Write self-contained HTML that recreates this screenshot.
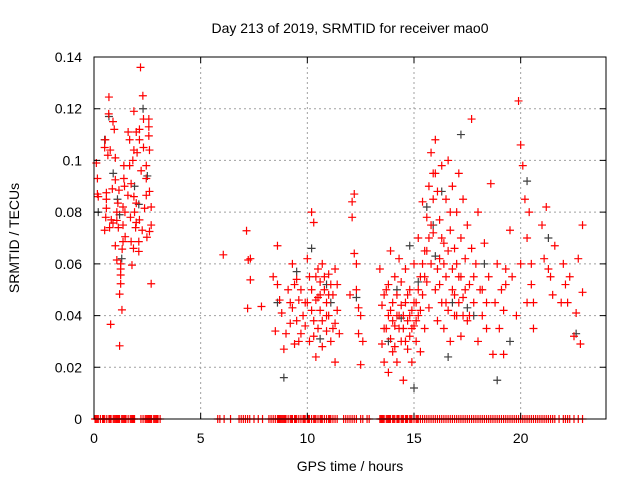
<!DOCTYPE html>
<html><head><meta charset="utf-8"><style>
body{margin:0;background:#fff;}
svg{display:block;font-family:"Liberation Sans",sans-serif;}
</style></head><body>
<svg id="chart" width="640" height="480" viewBox="0 0 640 480">
<text x="350" y="33" font-size="14" text-anchor="middle">Day 213 of 2019, SRMTID for receiver mao0</text>
<text x="19" y="238" font-size="14" text-anchor="middle" transform="rotate(-90 19 238)">SRMTID / TECUs</text>
<text x="350" y="471" font-size="14" text-anchor="middle">GPS time / hours</text>
<g id="grid"></g><g id="marks"></g><g id="axes"></g>
</svg>
<script>
const xTicks=[0,5,10,15,20];
const yTicks=[0,0.02,0.04,0.06,0.08,0.1,0.12,0.14];
const yTickLabels=["0","0.02","0.04","0.06","0.08","0.1","0.12","0.14"];
const grayHours=[0.5,0.7,0.9,1.1,1.2,1.3,1.9,2.1,2.3,2.5,0.2,8.6,8.9,9.5,10.2,10.6,11.1,12.3,13.8,14.4,14.8,15.0,15.2,15.6,16.0,16.3,16.6,17.2,17.5,18.3,18.9,19.5,20.3,21.3,22.6,14.2,15.9,16.8,10.9,17.8];
const grayValues=[0.108,0.117,0.095,0.085,0.079,0.062,0.09,0.083,0.12,0.094,0.08,0.045,0.016,0.057,0.066,0.031,0.045,0.047,0.03,0.039,0.067,0.012,0.053,0.082,0.063,0.088,0.024,0.11,0.043,0.06,0.015,0.03,0.092,0.07,0.033,0.05,0.075,0.045,0.052,0.04];
const redHours=[2.18,0.70,2.29,0.69,1.87,0.89,2.32,2.57,0.95,1.6,1.98,2.13,2.57,2.57,0.53,1.67,2.13,0.5,0.76,2.32,2.6,0.65,1.0,1.87,2.02,0.11,1.82,1.4,1.67,2.45,2.21,0.16,1.0,1.4,2.45,1.74,0.86,1.17,1.43,0.16,0.58,1.59,1.87,2.45,2.6,0.2,0.58,1.12,1.98,0.58,1.36,2.37,2.68,1.07,1.45,1.9,0.55,1.71,0.81,1.07,2.13,0.89,1.98,0.73,1.14,1.36,1.95,2.68,0.5,2.26,2.6,1.46,2.48,1.36,1.74,2.1,1.0,1.32,1.85,2.1,1.07,1.25,1.78,1.25,1.25,1.25,2.68,1.2,1.31,0.78,1.2,
6.06,7.15,7.23,7.33,7.33,7.2,7.85,
8.4,8.5,8.6,8.6,8.7,8.8,8.9,9.0,9.1,9.2,9.3,9.3,9.4,9.5,9.5,9.6,9.7,9.8,9.9,10.0,10.0,10.1,10.2,10.2,10.3,10.3,10.4,10.4,10.5,10.5,10.6,10.6,10.7,10.7,10.8,10.9,10.9,11.0,11.0,11.1,11.2,11.3,11.3,11.4,11.5,12.0,12.1,12.1,12.2,12.2,12.3,12.3,12.4,12.4,12.5,12.5,12.6,13.4,13.5,13.5,13.6,13.6,13.7,13.8,13.8,13.9,13.9,14.0,14.0,14.1,14.1,14.2,14.2,14.3,14.3,14.4,14.4,14.5,14.5,14.6,14.6,14.7,14.7,14.8,14.8,14.9,14.9,15.0,15.0,15.1,15.1,15.2,15.2,15.3,15.3,15.4,15.4,15.5,15.5,15.6,15.6,15.7,15.7,15.8,15.8,15.9,15.9,16.0,16.0,16.1,16.1,16.2,16.2,16.3,16.3,16.4,16.4,16.5,16.5,16.6,16.6,16.7,16.7,16.8,16.8,16.9,16.9,17.0,17.0,17.1,17.1,17.2,17.2,17.3,17.3,17.4,17.5,17.5,17.6,17.7,17.7,17.8,17.9,18.0,18.0,18.1,18.2,18.3,18.4,18.5,18.6,18.7,18.8,18.9,19.0,19.1,19.2,19.3,19.5,19.6,19.8,19.9,20.0,20.0,20.1,20.2,20.3,20.3,20.4,20.5,20.6,21.0,21.1,21.2,21.3,21.5,21.6,21.9,22.0,22.1,22.3,22.5,22.6,22.7,22.8,22.9,22.9,
9.2,9.4,9.6,9.7,9.9,10.1,10.2,10.3,10.4,10.5,10.6,10.7,10.8,10.9,11.0,11.1,11.2,11.3,11.4,13.6,13.7,13.8,13.9,14.0,14.1,14.2,14.3,14.4,14.5,14.6,14.7,14.8,14.9,15.0,15.1,15.2,15.3,15.4,15.5,15.6,15.7,15.8,15.9,16.0,16.1,16.2,16.3,16.4,16.5,16.6,16.7,16.8,16.9,17.0,17.1,17.2,17.3,17.4,17.6,17.8,18.2,18.4,19.2,19.3,20.5,20.6,21.4,22.2];
const redValues=[0.136,0.1245,0.125,0.118,0.119,0.115,0.116,0.116,0.112,0.111,0.111,0.112,0.113,0.1095,0.108,0.108,0.108,0.105,0.104,0.105,0.104,0.102,0.101,0.104,0.103,0.099,0.1,0.098,0.098,0.098,0.096,0.093,0.0925,0.093,0.093,0.091,0.089,0.0885,0.09,0.087,0.0875,0.0865,0.086,0.0865,0.088,0.086,0.085,0.0835,0.0835,0.0815,0.082,0.0815,0.082,0.08,0.08,0.08,0.078,0.078,0.077,0.0768,0.077,0.0758,0.076,0.074,0.074,0.075,0.074,0.075,0.073,0.073,0.0725,0.0705,0.0703,0.0686,0.0686,0.0686,0.067,0.0657,0.066,0.0648,0.0615,0.06,0.0595,0.058,0.0557,0.0523,0.0523,0.0483,0.0422,0.0366,0.0283,
0.0635,0.0728,0.0615,0.062,0.0538,0.0428,0.0435,
0.055,0.034,0.067,0.052,0.046,0.041,0.027,0.033,0.05,0.037,0.06,0.043,0.029,0.038,0.054,0.046,0.033,0.040,0.036,0.062,0.045,0.030,0.050,0.080,0.076,0.038,0.055,0.024,0.047,0.035,0.053,0.042,0.060,0.028,0.050,0.045,0.034,0.040,0.056,0.030,0.048,0.037,0.022,0.052,0.033,0.048,0.084,0.078,0.087,0.064,0.060,0.050,0.043,0.033,0.040,0.021,0.030,0.058,0.044,0.029,0.035,0.022,0.050,0.040,0.018,0.065,0.031,0.045,0.026,0.055,0.036,0.048,0.022,0.062,0.040,0.030,0.053,0.035,0.015,0.045,0.058,0.038,0.027,0.050,0.032,0.042,0.022,0.036,0.060,0.030,0.045,0.070,0.040,0.055,0.026,0.084,0.048,0.065,0.035,0.078,0.053,0.090,0.043,0.103,0.060,0.095,0.072,0.108,0.050,0.088,0.038,0.077,0.062,0.098,0.045,0.068,0.035,0.085,0.055,0.100,0.042,0.073,0.030,0.090,0.058,0.066,0.048,0.080,0.040,0.095,0.055,0.070,0.032,0.085,0.047,0.062,0.075,0.038,0.052,0.116,0.066,0.045,0.060,0.030,0.080,0.050,0.040,0.068,0.035,0.055,0.091,0.025,0.045,0.060,0.035,0.050,0.025,0.058,0.073,0.055,0.040,0.123,0.106,0.060,0.098,0.085,0.070,0.045,0.080,0.052,0.035,0.075,0.062,0.082,0.058,0.048,0.067,0.045,0.060,0.052,0.055,0.032,0.041,0.062,0.029,0.075,0.049,
0.045,0.052,0.030,0.050,0.045,0.055,0.042,0.032,0.046,0.058,0.048,0.038,0.055,0.040,0.048,0.052,0.035,0.058,0.042,0.048,0.035,0.052,0.042,0.038,0.028,0.040,0.035,0.044,0.040,0.030,0.048,0.040,0.035,0.045,0.038,0.050,0.042,0.060,0.055,0.065,0.070,0.075,0.085,0.095,0.058,0.052,0.070,0.060,0.045,0.065,0.080,0.050,0.040,0.060,0.045,0.055,0.040,0.050,0.040,0.055,0.050,0.045,0.042,0.052,0.060,0.045,0.055,0.045];
const zeroHours=[0.05,0.1,0.15,0.2,0.3,0.4,0.45,0.5,0.6,0.7,0.75,0.8,0.9,0.95,1.0,1.05,1.1,1.15,1.2,1.3,1.35,1.4,1.45,1.5,1.6,1.7,1.75,1.8,1.85,1.9,2.2,2.3,2.4,2.45,2.5,2.55,2.6,2.65,2.7,2.8,2.85,2.9,2.95,3.0,3.1,5.8,5.9,6.1,6.4,6.8,6.9,7.0,7.1,7.2,7.3,7.5,7.7,7.9,8.2,8.3,8.4,8.5,8.6,8.65,8.7,8.75,8.8,8.85,8.9,8.95,9.0,9.1,9.2,9.25,9.3,9.4,9.45,9.5,9.6,9.7,9.8,9.85,9.9,10.0,10.05,10.1,10.2,10.3,10.35,10.4,10.5,10.6,10.65,10.7,10.8,10.9,11.0,11.05,11.1,11.2,11.3,11.4,11.7,11.8,11.9,12.0,12.1,12.2,12.3,12.5,12.6,12.8,12.9,13.4,13.45,13.5,13.55,13.6,13.7,13.75,13.8,13.85,13.9,14.0,14.05,14.1,14.2,14.25,14.3,14.4,14.45,14.5,14.6,14.65,14.7,14.8,14.85,14.9,15.0,15.1,15.15,15.2,15.3,15.4,15.5,15.6,15.7,15.8,15.9,16.0,16.1,16.2,16.3,16.4,16.5,16.6,16.7,16.8,16.9,17.0,17.1,17.2,17.3,17.4,17.5,17.6,17.7,17.8,17.9,18.0,18.1,18.2,18.3,18.4,18.5,18.6,18.7,18.8,18.9,19.0,19.1,19.2,19.3,19.4,19.5,19.6,19.7,19.8,19.9,20.0,20.1,20.2,20.3,20.4,20.5,20.6,20.7,20.8,20.9,21.0,21.1,21.2,21.3,21.4,21.5,21.6,21.8,22.0,22.1,22.2,22.3,22.5,22.7,22.9];
const L=94,R=606,T=57,B=419,XMAX=24,YMAX=0.14;
const ns="http://www.w3.org/2000/svg";
function xs(h){return L+(h/XMAX)*(R-L);}
function ys(v){return B-(v/YMAX)*(B-T);}
function mk(tag,attrs,parent){const e=document.createElementNS(ns,tag);for(const k in attrs)e.setAttribute(k,attrs[k]);parent.appendChild(e);return e;}
const grid=document.getElementById('grid'),marks=document.getElementById('marks'),axes=document.getElementById('axes');
xTicks.forEach((t,i)=>{const x=xs(t);
 if(t>0){const g=mk('line',{x1:x,x2:x,y1:T,y2:B,stroke:'#a0a0a0','stroke-dasharray':'2,3','stroke-width':1},grid);
 
 }
 const tk=mk('path',{d:`M${x},${B}v-6M${x},${T}v6`,stroke:'#000'},axes);
 
 
 const lb=mk('text',{x:x,y:B+24,'font-size':14,'text-anchor':'middle'},axes);lb.textContent=String(t);
 
 
});
yTicks.forEach((t,i)=>{const y=ys(t);
 if(t>0&&t<YMAX){const g=mk('line',{x1:L,x2:R,y1:y,y2:y,stroke:'#a0a0a0','stroke-dasharray':'2,3','stroke-width':1},grid);
 
 }
 const tk=mk('path',{d:`M${L},${y}h6M${R},${y}h-6`,stroke:'#000'},axes);
 
 
 const lb=mk('text',{x:L-12,y:y+5,'font-size':14,'text-anchor':'end'},axes);lb.textContent=yTickLabels[i];
 
 
});
function plus(h,v,col,name){const x=xs(h),y=ys(v);
 const p=mk('path',{d:`M${x-4},${y}h8M${x},${y-4}v8`,stroke:col,'stroke-width':1.2},marks);
 
 }
grayHours.forEach((h,i)=>plus(h,grayValues[i],'#404040','gray-point'));
redHours.forEach((h,i)=>plus(h,redValues[i],'#ff0000','red-point'));
zeroHours.forEach(h=>plus(h,0,'#ff0000','zero-point'));
const fr=mk('rect',{x:L,y:T,width:R-L,height:B-T,fill:'none',stroke:'#000','stroke-width':1},axes);


</script>
</body></html>
